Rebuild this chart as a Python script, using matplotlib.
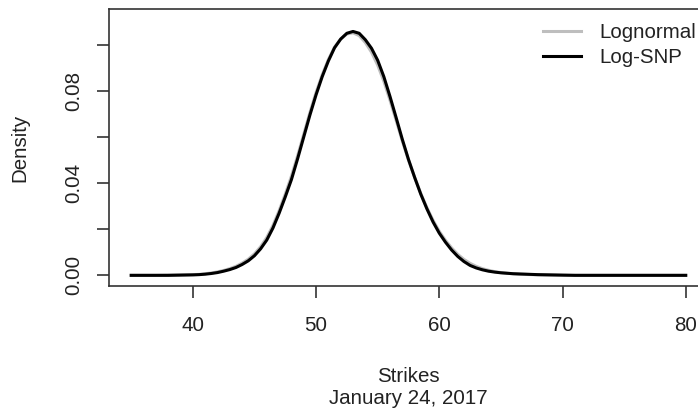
import matplotlib
matplotlib.use("Agg")
from matplotlib import pyplot as plt
import numpy as np

plt.rcParams['font.family'] = ['Liberation Sans', 'DejaVu Sans']
plt.rcParams['font.size'] = 14.8

# strike grid (half-dollar steps around the money) and the two fitted densities
strikes = [35, 36, 37, 38, 39, 40,
           40.5, 41, 41.5, 42, 42.5, 43, 43.5, 44, 44.5, 45, 45.5, 46, 46.5,
           47, 47.5, 48, 48.5, 49, 49.5, 50, 50.5, 51, 51.5, 52, 52.5, 53,
           53.5, 54, 54.5, 55, 55.5, 56, 56.5, 57, 57.5, 58, 58.5, 59, 59.5,
           60, 60.5, 61, 61.5, 62, 62.5, 63, 63.5, 64, 64.5, 65, 65.5, 66,
           66.5, 67,
           68, 69, 70, 71, 72, 73, 74, 75, 76, 77, 78, 79, 80]

lognormal = [0.0000, 0.0000, 0.0000, 0.0001, 0.0002, 0.0003,
             0.0004, 0.0007, 0.0010, 0.0015, 0.0021, 0.0029, 0.0039, 0.0053,
             0.0070, 0.0093, 0.0124, 0.0164, 0.0216, 0.0280, 0.0352, 0.0430,
             0.0518, 0.0612, 0.0706, 0.0793, 0.0870, 0.0936, 0.0990, 0.1025,
             0.1047, 0.1052, 0.1040, 0.1010, 0.0968, 0.0912, 0.0842, 0.0760,
             0.0672, 0.0583, 0.0500, 0.0425, 0.0355, 0.0293, 0.0238, 0.0191,
             0.0152, 0.0119, 0.0091, 0.0069, 0.0052, 0.0039, 0.0029, 0.0022,
             0.0016, 0.0012, 0.0009, 0.0007, 0.0005, 0.0004,
             0.0002, 0.0001, 0.0000, 0.0000, 0.0000, 0.0000, 0.0000, 0.0000,
             0.0000, 0.0000, 0.0000, 0.0000, 0.0000]

log_snp = [0.0000, 0.0000, 0.0000, 0.0000, 0.0001, 0.0002,
           0.0003, 0.0005, 0.0008, 0.0012, 0.0018, 0.0025, 0.0034, 0.0047,
           0.0063, 0.0085, 0.0115, 0.0153, 0.0205, 0.0269, 0.0340, 0.0415,
           0.0505, 0.0600, 0.0695, 0.0783, 0.0862, 0.0930, 0.0987, 0.1025,
           0.1050, 0.1058, 0.1050, 0.1022, 0.0985, 0.0933, 0.0862, 0.0776,
           0.0684, 0.0590, 0.0503, 0.0425, 0.0352, 0.0288, 0.0231, 0.0183,
           0.0144, 0.0110, 0.0082, 0.0060, 0.0043, 0.0032, 0.0024, 0.0018,
           0.0014, 0.0011, 0.0009, 0.0007, 0.0006, 0.0005,
           0.0003, 0.0002, 0.0001, 0.0000, 0.0000, 0.0000, 0.0000, 0.0000,
           0.0000, 0.0000, 0.0000, 0.0000, 0.0000]

date_label = "January 24, 2017"

fig = plt.figure(figsize=(6.98, 4.16), dpi=100)
# plot region runs past the right edge of the figure
ax = fig.add_axes([0.1562, 0.3132, 0.858, 0.6644])

ax.plot(strikes, lognormal, color='#bebebe', lw=2.2, label='Lognormal')
ax.plot(strikes, log_snp, color='black', lw=2.2, label='Log-SNP')

ax.set_xlim(33.2, 81.8)
ax.set_ylim(-0.0045, 0.1154)

ax.set_xticks([40, 50, 60, 70, 80])
yt = np.arange(0, 0.101, 0.02)
ax.set_yticks(yt)
ax.set_yticklabels(['0.00', '', '0.04', '', '0.08', ''])
for lab in ax.get_yticklabels():
    lab.set_rotation(90)
    lab.set_va('center')

for s in ax.spines.values():
    s.set_color('#333333')
    s.set_linewidth(1.2)
ax.tick_params(length=8.5, width=1.2, color='#333333', labelcolor='#222222')
ax.tick_params(axis='x', pad=13)
ax.tick_params(axis='y', pad=10)

ax.set_xlabel("Strikes\n" + date_label, color='#222222', linespacing=1.2,
              labelpad=23)
ax.set_ylabel("Density", color='#222222', labelpad=25)

leg = ax.legend(loc='upper left', bbox_to_anchor=(0.7775, 0.944),
                bbox_transform=fig.transFigure, frameon=False,
                handlelength=1.85, handletextpad=0.9, labelspacing=0.28,
                borderpad=0, borderaxespad=0)
for t in leg.get_texts():
    t.set_color('#222222')

fig.savefig("out.png", dpi=100)
